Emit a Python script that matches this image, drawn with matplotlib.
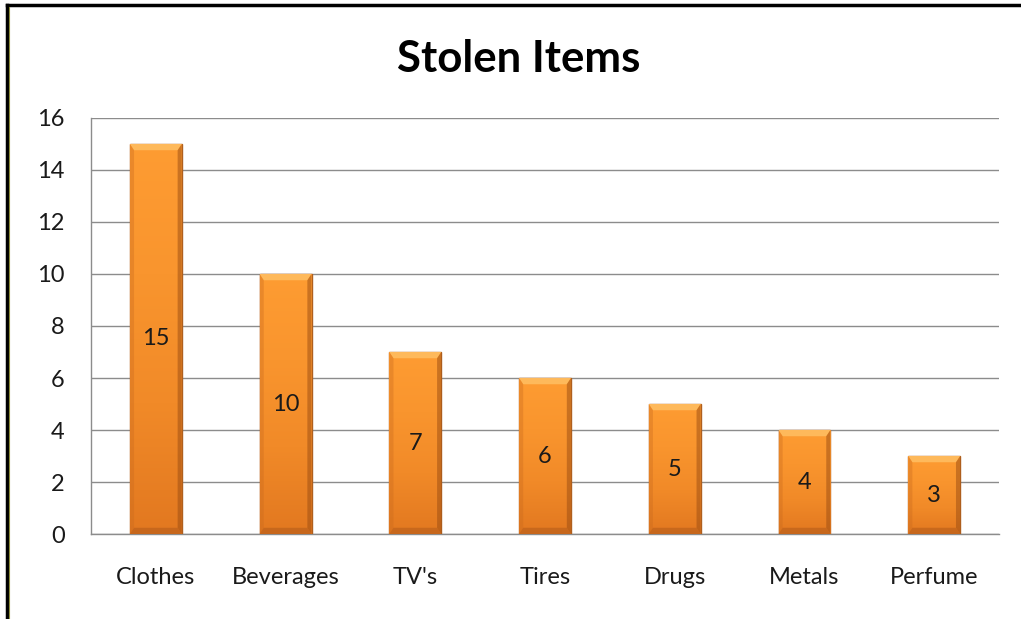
import numpy as np
import matplotlib
matplotlib.use("Agg")
import matplotlib.pyplot as plt
from matplotlib.lines import Line2D
from matplotlib.patches import Polygon

plt.rcParams['font.family'] = ['Lato', 'DejaVu Sans']

items = ["Clothes", "Beverages", "TV's", "Tires", "Drugs", "Metals", "Perfume"]
counts = [15, 10, 7, 6, 5, 4, 3]
yticks = [0, 2, 4, 6, 8, 10, 12, 14, 16]

fig = plt.figure(figsize=(10.21, 6.19), dpi=100)
ax = fig.add_axes([0.0891, 0.1373, 0.8894, 0.6721])

x = np.arange(len(items))
bars = ax.bar(x, counts, width=0.4, color='#F7922A', edgecolor='#B0601E',
              linewidth=1.0, zorder=3)

# vertical gradient inside each bar, light orange on top, darker at the bottom
grad = np.linspace(0, 1, 256).reshape(-1, 1)
cmap = matplotlib.colors.LinearSegmentedColormap.from_list(
    'bar', ['#E27820', '#F18A28', '#F9952E', '#FE9C32'])
bev_y = 0.24   # bevel height in data units (~6 px)
bev_x = 0.032  # bevel width in data units (~4 px)
for b in bars:
    x0, w, h = b.get_x(), b.get_width(), b.get_height()
    x1 = x0 + w
    im = ax.imshow(grad, cmap=cmap, extent=(x0, x1, 0, h), origin='lower',
                   aspect='auto', zorder=3.5, interpolation='bilinear')
    im.set_clip_path(b)
    # bevel: light top, darker right/bottom, slight dark left
    ax.add_patch(Polygon([(x0, h), (x1, h), (x1 - bev_x, h - bev_y),
                          (x0 + bev_x, h - bev_y)], closed=True,
                         color='#FFC46A', alpha=0.75, lw=0, zorder=4))
    ax.add_patch(Polygon([(x1, h), (x1, 0), (x1 - bev_x, bev_y),
                          (x1 - bev_x, h - bev_y)], closed=True,
                         color='#9A4C12', alpha=0.5, lw=0, zorder=4))
    ax.add_patch(Polygon([(x0, h), (x0, 0), (x0 + bev_x, bev_y),
                          (x0 + bev_x, h - bev_y)], closed=True,
                         color='#C8691E', alpha=0.35, lw=0, zorder=4))
    ax.add_patch(Polygon([(x0, 0), (x1, 0), (x1 - bev_x, bev_y),
                          (x0 + bev_x, bev_y)], closed=True,
                         color='#A85418', alpha=0.45, lw=0, zorder=4))
    ax.text(x0 + w / 2, h / 2, str(int(h)), ha='center', va='center',
            fontsize=17, color='#1a1a1a', zorder=5)

ax.set_xlim(-0.5, len(items) - 0.5)
ax.set_ylim(0, 16)
ax.set_yticks(yticks)
ax.set_xticks(x)
ax.set_xticklabels(items)
ax.tick_params(axis='both', length=0, labelsize=17, colors='#1a1a1a')
ax.tick_params(axis='y', pad=19)
ax.tick_params(axis='x', pad=24)
ax.yaxis.grid(True, color='#8c8c8c', lw=1.0, zorder=0)
ax.set_axisbelow(True)
for s in ['top', 'right']:
    ax.spines[s].set_visible(False)
for s in ['left', 'bottom']:
    ax.spines[s].set_color('#8c8c8c')
    ax.spines[s].set_linewidth(1.0)

fig.text(0.5083, 0.905, "Stolen Items", ha='center', va='center',
         fontsize=31.5, fontweight='bold', color='black')

# outer frame: black line along top and left edges
fig.add_artist(Line2D([0.0068, 1.0], [0.9919, 0.9919], color='black', lw=2.5,
                      transform=fig.transFigure))
fig.add_artist(Line2D([0.0068, 0.0068], [0.0, 0.9919], color='black', lw=2.5,
                      transform=fig.transFigure))
fig.add_artist(Line2D([0.0092, 0.0092], [0.0, 0.9885], color='#8a8a3a', lw=0.8,
                      transform=fig.transFigure))

fig.savefig("out.png", dpi=100)
